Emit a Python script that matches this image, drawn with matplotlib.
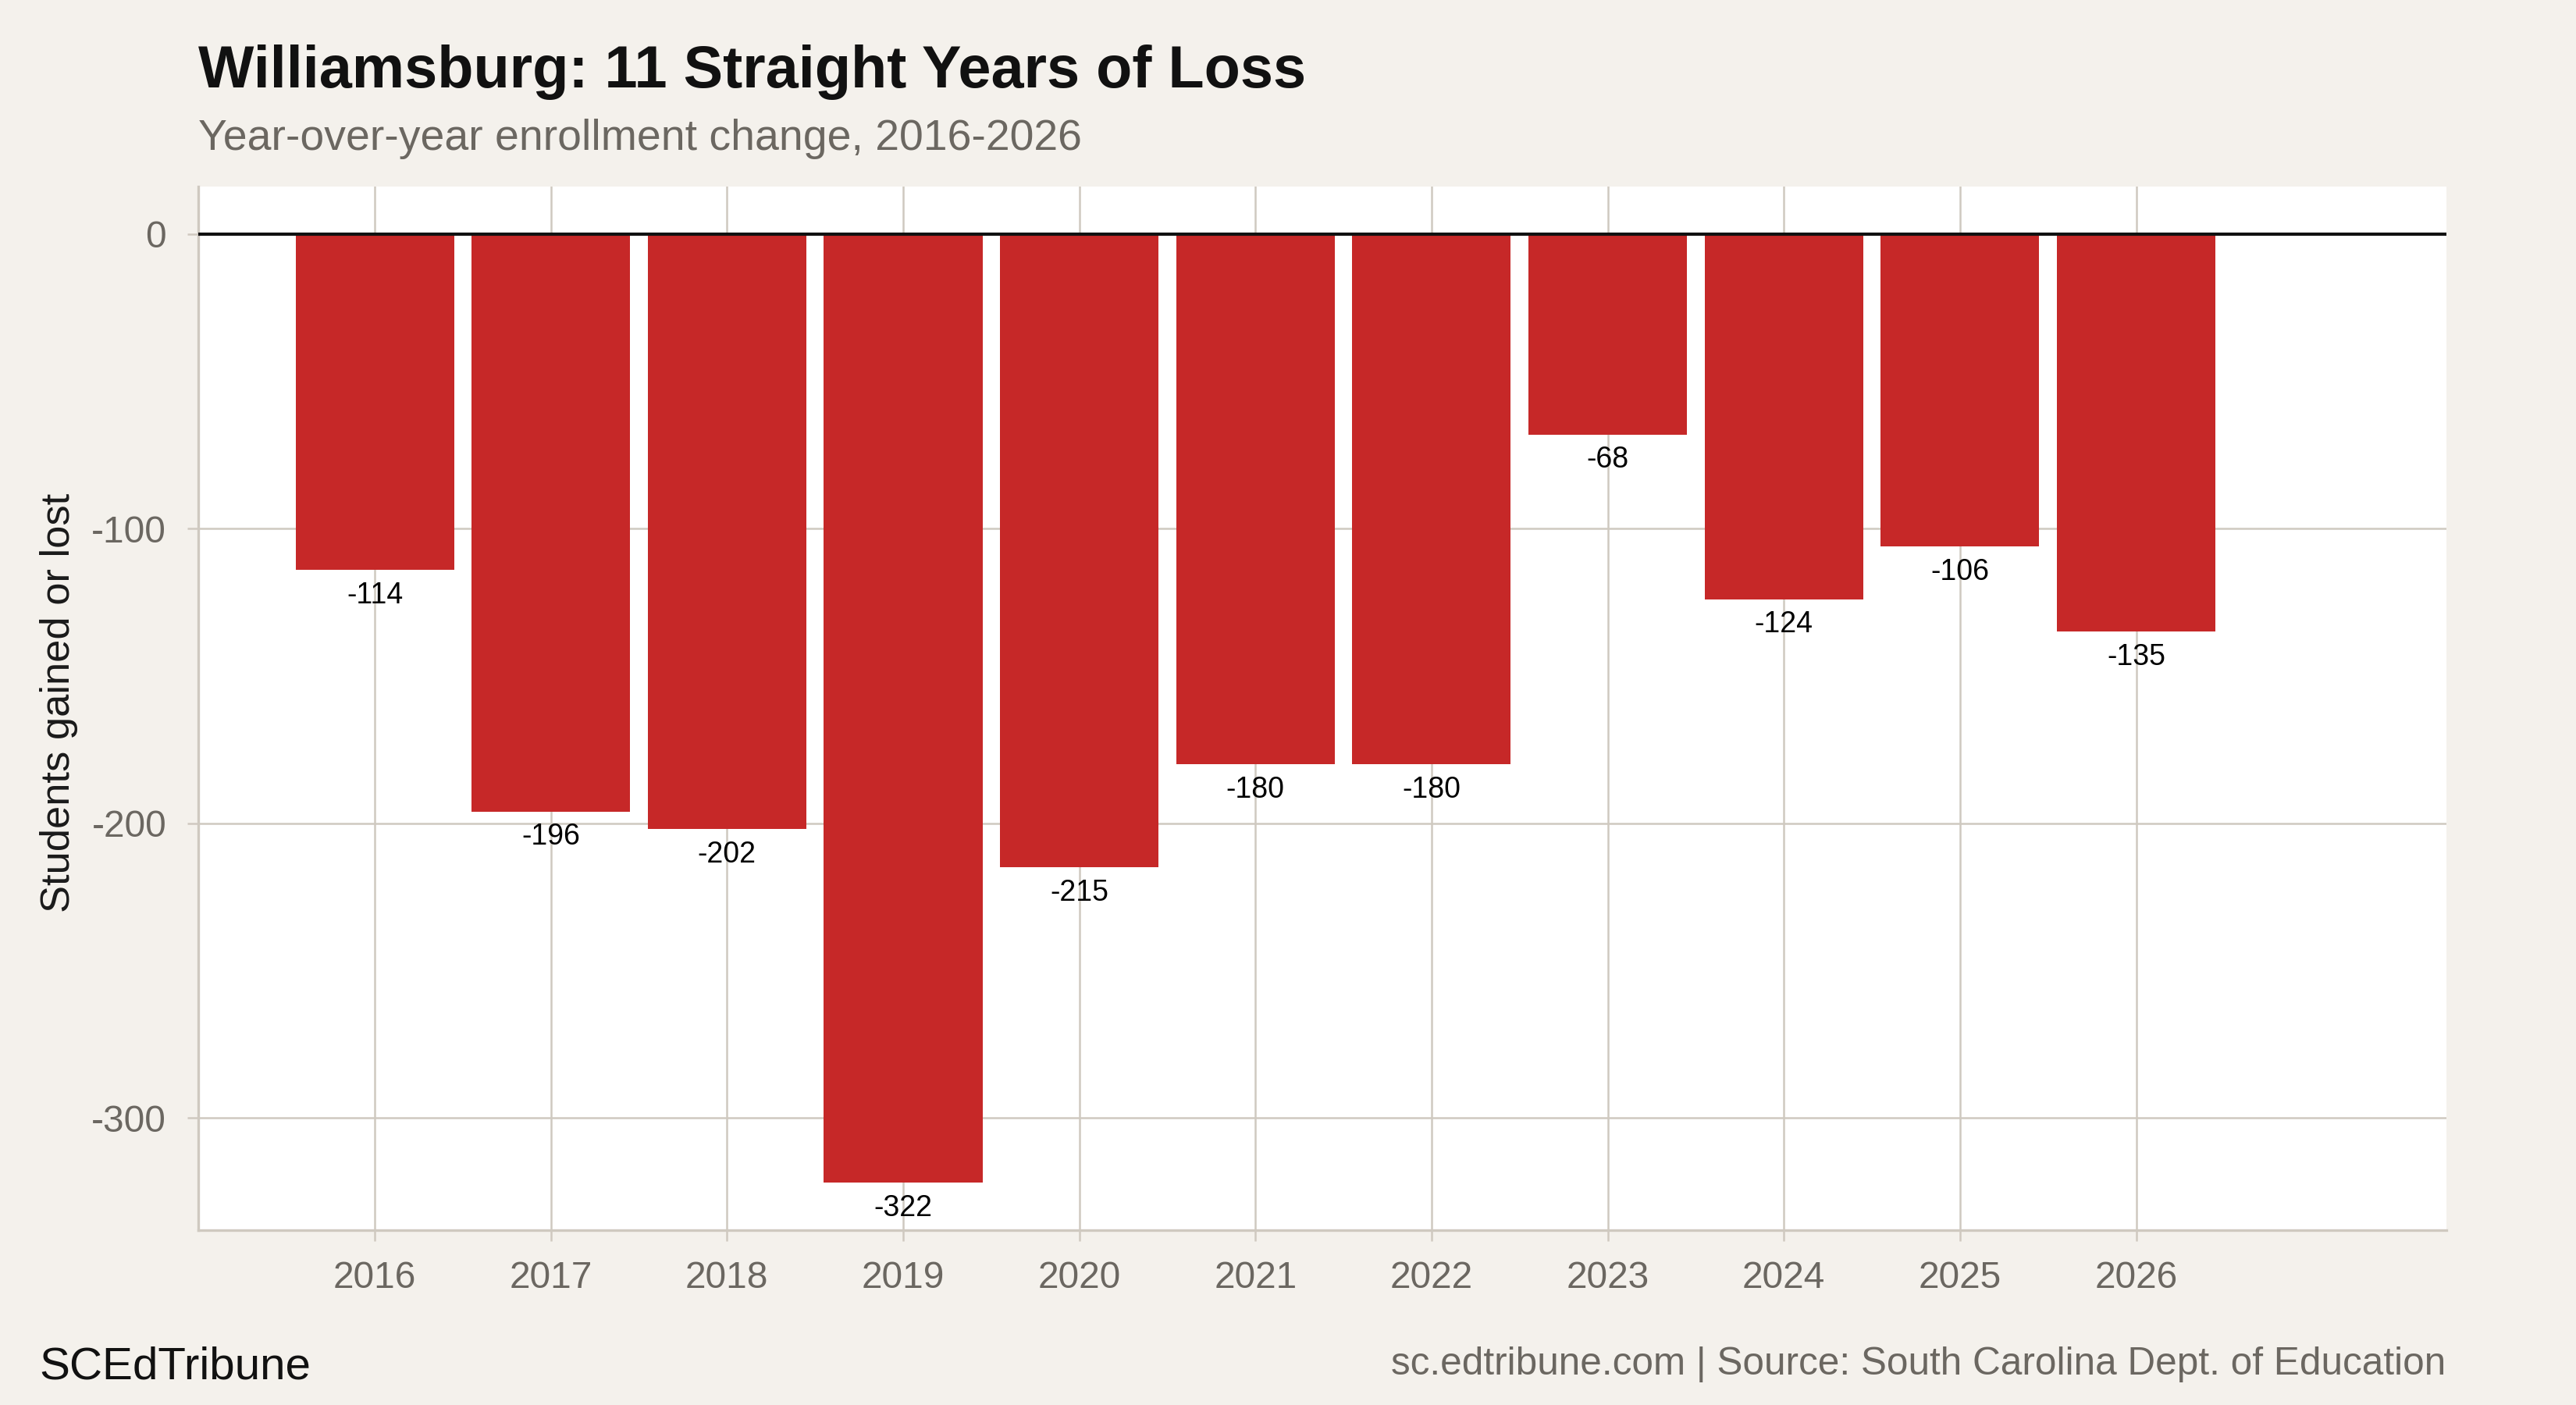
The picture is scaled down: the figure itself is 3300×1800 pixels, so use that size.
import matplotlib
matplotlib.use("Agg")
import matplotlib.pyplot as plt

# data
years = [2016, 2017, 2018, 2019, 2020, 2021, 2022, 2023, 2024, 2025, 2026]
change = [-114, -196, -202, -322, -215, -180, -180, -68, -124, -106, -135]
y_ticks = [0, -100, -200, -300]

title = "Williamsburg: 11 Straight Years of Loss"
subtitle = "Year-over-year enrollment change, 2016-2026"
y_label = "Students gained or lost"
brand = "SCEdTribune"
source = "sc.edtribune.com | Source: South Carolina Dept. of Education"

BG = "#f4f1ec"
GRID = "#cfc9c0"
BAR = "#c62828"
GRAY_TXT = "#6b6761"

plt.rcParams["font.family"] = ["Liberation Sans", "DejaVu Sans"]

fig = plt.figure(figsize=(11, 6), dpi=300, facecolor=BG)
ax = fig.add_axes([0.0771, 0.1244, 0.9496 - 0.0771, 0.8672 - 0.1244])
ax.set_facecolor("white")

ax.bar(years, change, width=0.9, color=BAR, zorder=2)
ax.axhline(0, color="#111111", linewidth=1.0, zorder=3)

for x, v in zip(years, change):
    ax.annotate(f"{v}", (x, v), xytext=(0, -3.5), textcoords="offset points",
                ha="center", va="top", fontsize=9, color="black", zorder=4)

ax.set_xlim(2015.0, 2027.76)
ax.set_ylim(-338.1, 16.1)
ax.set_xticks(years)
ax.set_xticklabels([str(y) for y in years])
ax.set_yticks(y_ticks)
ax.set_yticklabels([str(t) for t in y_ticks])

ax.grid(True, color=GRID, linewidth=0.6, zorder=0)
ax.set_axisbelow(True)

for s in ["top", "right"]:
    ax.spines[s].set_visible(False)
for s in ["left", "bottom"]:
    ax.spines[s].set_color(GRID)
    ax.spines[s].set_linewidth(0.8)

ax.tick_params(axis="both", colors=GRID, length=3.4, width=0.6,
               labelcolor=GRAY_TXT, labelsize=11.5)
ax.tick_params(axis="x", pad=6)
ax.tick_params(axis="y", pad=6.5)

ax.set_ylabel(y_label, fontsize=12.6, color="#1a1a1a")
ax.yaxis.set_label_coords(0.0303, 0.5, transform=fig.transFigure)

fig.text(0.0771, 0.9378, title, fontsize=18.15, fontweight="bold", color="#111111",
         ha="left", va="baseline")
fig.text(0.0771, 0.8933, subtitle, fontsize=13.3, color=GRAY_TXT,
         ha="left", va="baseline")
fig.text(0.0153, 0.0185, brand, fontsize=14, color="#111111",
         ha="left", va="baseline")
fig.text(0.9496, 0.0218, source, fontsize=11.9, color=GRAY_TXT,
         ha="right", va="baseline")

fig.savefig("out.png", dpi=300, facecolor=BG)
